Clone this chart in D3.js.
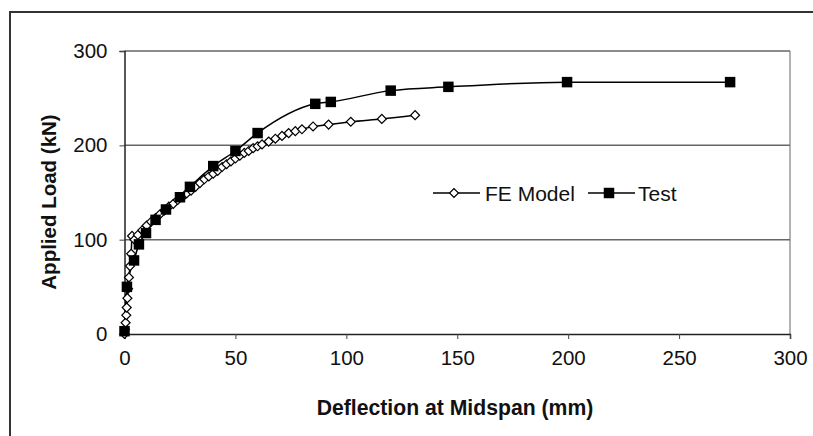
<!DOCTYPE html>
<html>
<head>
<meta charset="utf-8">
<script src="https://cdn.jsdelivr.net/npm/d3@7"></script>
<style>
  body { margin: 0; background: #fff; }
  svg { font-family: "Liberation Sans", Arial, sans-serif; }
</style>
</head>
<body>
<svg id="chart" width="813" height="436"></svg>
<script>
// test data (mm, kN)
const testX = [0, 1.1, 4.3, 6.5, 9.7, 14, 18.7, 25, 29.5, 40, 50, 60, 86, 93, 120, 146, 199.5, 273];
const testY = [3, 50, 78, 95, 107, 121, 132, 145, 156, 178, 194, 213, 244, 246, 258, 262, 267, 267];

// FE model
const feX = [0, 0.2, 0.5, 0.8, 1.0, 1.3, 1.6, 2.0, 2.5, 3.0, 3.4, 4.5, 6, 8, 10, 12, 14, 16, 18, 20, 22, 24, 26, 28, 30, 32, 34, 36, 38, 40, 42, 44, 46, 48, 50, 52, 54, 56, 58, 60, 62, 65, 68, 71, 74, 77, 80, 85, 92, 102, 116, 131];
const feY = [0, 5, 12, 20, 28, 38, 48, 60, 72, 85, 104, 100, 105, 110, 115, 119, 123, 127, 131, 135, 138, 142, 145, 149, 152, 156, 160, 164, 167, 170, 173, 177, 180, 183, 186, 189, 192, 194, 197, 199, 201, 204, 207, 210, 213, 215, 217, 220, 222, 225, 228, 232];

const xTicks = [0, 50, 100, 150, 200, 250, 300];
const yTicks = [0, 100, 200, 300];

const plotL = 124.5, plotR = 790, plotT = 51, plotB = 334;

const svg = d3.select("#chart");

// outer frame
svg.append("rect")
  .attr("x", 10).attr("y", 12)
  .attr("width", 830).attr("height", 460)
  .attr("fill", "none").attr("stroke", "#333").attr("stroke-width", 2);

const x = d3.scaleLinear().domain([0, 300]).range([plotL, plotR]);
const y = d3.scaleLinear().domain([0, 300]).range([plotB, plotT]);

// right border of plot area
svg.append("line")
  .attr("x1", plotR).attr("x2", plotR).attr("y1", plotT).attr("y2", plotB)
  .attr("stroke", "#999").attr("stroke-width", 1.5);

// gridlines
svg.append("g").selectAll("line")
  .data(yTicks.filter(d => d > 0))
  .join("line")
  .attr("x1", plotL).attr("x2", plotR)
  .attr("y1", d => y(d)).attr("y2", d => y(d))
  .attr("stroke", "#666").attr("stroke-width", 1.5);

// axes
const xAxis = svg.append("g")
  .attr("transform", `translate(0,${plotB})`)
  .call(d3.axisBottom(x).tickValues(xTicks).tickSize(5).tickPadding(11));
const yAxis = svg.append("g")
  .attr("transform", `translate(${plotL},0)`)
  .call(d3.axisLeft(y).tickValues(yTicks).tickSize(5).tickPadding(12));

[xAxis, yAxis].forEach(a => {
  a.select(".domain").attr("stroke", "#222").attr("stroke-width", 1.5);
  a.selectAll(".tick line").attr("stroke", "#444");
  a.selectAll("text").attr("font-size", 20.5).attr("fill", "#111")
    .attr("font-family", "Liberation Sans, Arial, sans-serif");
});

// axis titles
svg.append("text")
  .attr("x", 455).attr("y", 415)
  .attr("text-anchor", "middle")
  .attr("font-size", 21.2).attr("font-weight", "bold").attr("fill", "#111")
  .text("Deflection at Midspan (mm)");
svg.append("text")
  .attr("transform", "translate(56,202) rotate(-90)")
  .attr("text-anchor", "middle")
  .attr("font-size", 20.5).attr("font-weight", "bold").attr("fill", "#111")
  .text("Applied Load (kN)");

const testData = testX.map((d, i) => [d, testY[i]]);
const feData = feX.map((d, i) => [d, feY[i]]);

const line = d3.line()
  .x(d => x(d[0])).y(d => y(d[1]))
  .curve(d3.curveMonotoneX);

svg.append("path").datum(testData)
  .attr("d", line).attr("fill", "none")
  .attr("stroke", "#000").attr("stroke-width", 1.5);
svg.append("path").datum(feData)
  .attr("d", line).attr("fill", "none")
  .attr("stroke", "#000").attr("stroke-width", 1.5);

const diamond = d3.symbol().type(d3.symbolSquare).size(40);
const square = d3.symbol().type(d3.symbolSquare).size(110);

svg.append("g").selectAll("path")
  .data(feData)
  .join("path")
  .attr("transform", d => `translate(${x(d[0])},${y(d[1])}) rotate(45)`)
  .attr("d", diamond)
  .attr("fill", "#fff").attr("stroke", "#000").attr("stroke-width", 1.2);

svg.append("g").selectAll("path")
  .data(testData)
  .join("path")
  .attr("transform", d => `translate(${x(d[0])},${y(d[1])})`)
  .attr("d", square)
  .attr("fill", "#000");

// legend
const lg = svg.append("g");
lg.append("line").attr("x1", 433).attr("x2", 480).attr("y1", 193).attr("y2", 193)
  .attr("stroke", "#000").attr("stroke-width", 1.5);
lg.append("path").attr("transform", "translate(454,193) rotate(45)")
  .attr("d", diamond)
  .attr("fill", "#fff").attr("stroke", "#000").attr("stroke-width", 1.2);
lg.append("text").attr("x", 485).attr("y", 200.5)
  .attr("font-size", 21).attr("fill", "#111").text("FE Model");
lg.append("line").attr("x1", 588).attr("x2", 635).attr("y1", 193).attr("y2", 193)
  .attr("stroke", "#000").attr("stroke-width", 1.5);
lg.append("path").attr("transform", "translate(609,193)")
  .attr("d", square).attr("fill", "#000");
lg.append("text").attr("x", 638).attr("y", 200.5)
  .attr("font-size", 21).attr("fill", "#111").text("Test");
</script>
</body>
</html>
